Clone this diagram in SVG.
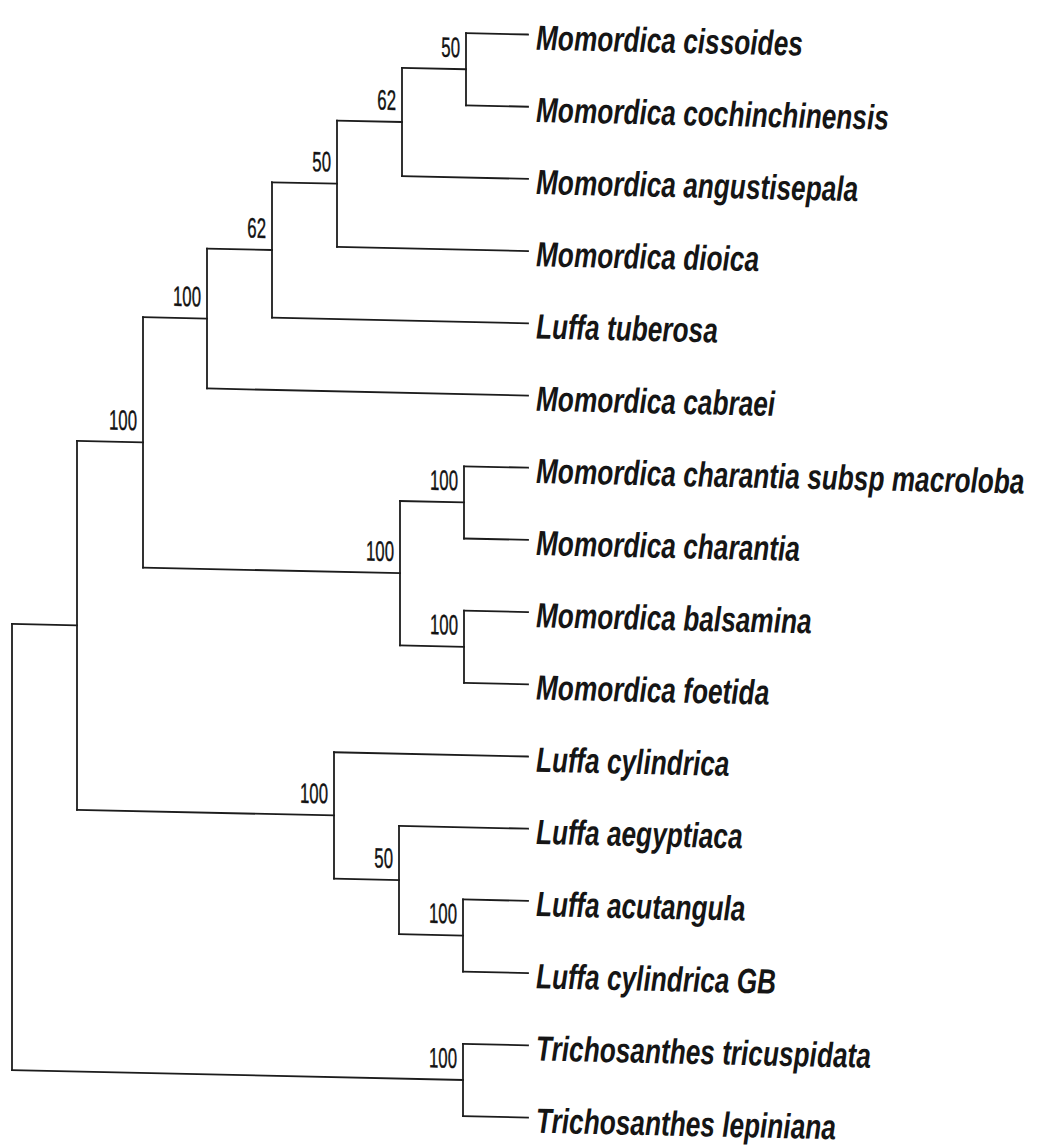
<svg xmlns="http://www.w3.org/2000/svg" width="1055" height="1146" viewBox="0 0 1055 1146">
<style>
.br{fill:none;stroke:#1c1c1c;stroke-width:1.8;stroke-linecap:square}
.taxon{font-family:"Liberation Sans",Arial,sans-serif;font-style:italic;font-weight:bold;font-size:35px;fill:#151515}
.bs{font-family:"Liberation Sans",Arial,sans-serif;font-size:28px;fill:#111;stroke:#111;stroke-width:0.4;text-anchor:end}
</style>
<rect width="1055" height="1146" fill="#fff"/>
<g transform="translate(0,-11.6) skewY(1.26)">
<g id="connectors" class="br">
<path d="M466 34.5H528M466 106.7H528"/>
<path d="M402 70.6H466M402 178.9H528"/>
<path d="M337 124.75H402M337 251.1H528"/>
<path d="M272 187.9H337M272 323.3H528"/>
<path d="M207 255.6H272M207 395.5H528"/>
<path d="M143 325.6H207M143 576H400"/>
<path d="M400 503.8H464M400 648.2H464"/>
<path d="M464 467.7H528M464 539.9H528"/>
<path d="M464 612.1H528M464 684.3H528"/>
<path d="M77 450.8H143M77 819.7H334"/>
<path d="M334 756.5H528M334 882.85H399"/>
<path d="M399 828.7H528M399 937H463"/>
<path d="M463 900.9H528M463 973.1H528"/>
<path d="M12 635.25H77M12 1081.4H463"/>
<path d="M463 1045.3H528M463 1117.5H528"/>
</g>
<g id="node-A"><path class="br" d="M466 34.5V106.7"/><text class="bs" transform="translate(460,58.6) scale(0.6,1)">50</text></g>
<g id="node-B"><path class="br" d="M402 70.6V178.9"/><text class="bs" transform="translate(396,112.75) scale(0.6,1)">62</text></g>
<g id="node-C"><path class="br" d="M337 124.75V251.1"/><text class="bs" transform="translate(331,175.9) scale(0.6,1)">50</text></g>
<g id="node-D"><path class="br" d="M272 187.9V323.3"/><text class="bs" transform="translate(266,243.6) scale(0.6,1)">62</text></g>
<g id="node-E"><path class="br" d="M207 255.6V395.5"/><text class="bs" transform="translate(201,313.6) scale(0.6,1)">100</text></g>
<g id="node-F"><path class="br" d="M464 467.7V539.9"/><text class="bs" transform="translate(458,491.8) scale(0.6,1)">100</text></g>
<g id="node-G"><path class="br" d="M464 612.1V684.3"/><text class="bs" transform="translate(458,636.2) scale(0.6,1)">100</text></g>
<g id="node-H"><path class="br" d="M400 503.8V648.2"/><text class="bs" transform="translate(394,564) scale(0.6,1)">100</text></g>
<g id="node-I"><path class="br" d="M143 325.6V576"/><text class="bs" transform="translate(137,438.8) scale(0.6,1)">100</text></g>
<g id="node-J"><path class="br" d="M463 900.9V973.1"/><text class="bs" transform="translate(457,925) scale(0.6,1)">100</text></g>
<g id="node-K"><path class="br" d="M399 828.7V937"/><text class="bs" transform="translate(393,870.85) scale(0.6,1)">50</text></g>
<g id="node-L"><path class="br" d="M334 756.5V882.85"/><text class="bs" transform="translate(328,807.7) scale(0.6,1)">100</text></g>
<g id="node-M"><path class="br" d="M77 450.8V819.7"/></g>
<g id="node-T"><path class="br" d="M463 1045.3V1117.5"/><text class="bs" transform="translate(457,1069.4) scale(0.6,1)">100</text></g>
<g id="node-root"><path class="br" d="M12 635.25V1081.4"/></g>
<g id="leaf-1"><text class="taxon" transform="translate(536,49.5) scale(0.75,1)">Momordica cissoides</text></g>
<g id="leaf-2"><text class="taxon" transform="translate(536,121.7) scale(0.75,1)">Momordica cochinchinensis</text></g>
<g id="leaf-3"><text class="taxon" transform="translate(536,193.9) scale(0.75,1)">Momordica angustisepala</text></g>
<g id="leaf-4"><text class="taxon" transform="translate(536,266.1) scale(0.75,1)">Momordica dioica</text></g>
<g id="leaf-5"><text class="taxon" transform="translate(536,338.3) scale(0.75,1)">Luffa tuberosa</text></g>
<g id="leaf-6"><text class="taxon" transform="translate(536,410.5) scale(0.75,1)">Momordica cabraei</text></g>
<g id="leaf-7"><text class="taxon" transform="translate(536,482.7) scale(0.75,1)">Momordica charantia subsp macroloba</text></g>
<g id="leaf-8"><text class="taxon" transform="translate(536,554.9) scale(0.75,1)">Momordica charantia</text></g>
<g id="leaf-9"><text class="taxon" transform="translate(536,627.1) scale(0.75,1)">Momordica balsamina</text></g>
<g id="leaf-10"><text class="taxon" transform="translate(536,699.3) scale(0.75,1)">Momordica foetida</text></g>
<g id="leaf-11"><text class="taxon" transform="translate(536,771.5) scale(0.75,1)">Luffa cylindrica</text></g>
<g id="leaf-12"><text class="taxon" transform="translate(536,843.7) scale(0.75,1)">Luffa aegyptiaca</text></g>
<g id="leaf-13"><text class="taxon" transform="translate(536,915.9) scale(0.75,1)">Luffa acutangula</text></g>
<g id="leaf-14"><text class="taxon" transform="translate(536,988.1) scale(0.75,1)">Luffa cylindrica GB</text></g>
<g id="leaf-15"><text class="taxon" transform="translate(536,1060.3) scale(0.75,1)">Trichosanthes tricuspidata</text></g>
<g id="leaf-16"><text class="taxon" transform="translate(536,1132.5) scale(0.75,1)">Trichosanthes lepiniana</text></g>
</g>
</svg>
